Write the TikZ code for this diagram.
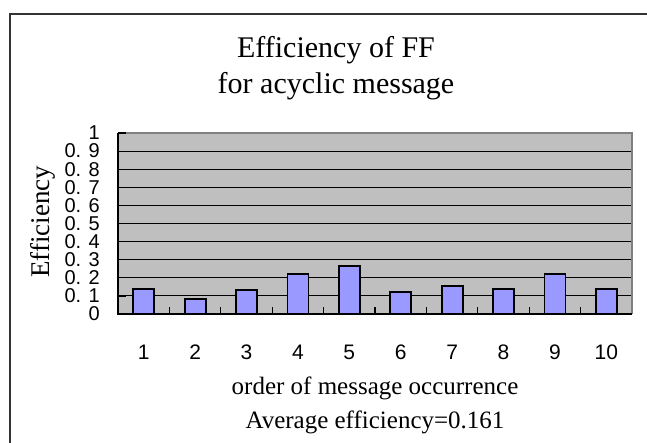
\documentclass[tikz,border=0pt]{standalone}
\usepackage{fontspec}
\setmainfont{Liberation Serif}
\newfontfamily\ticksans{Liberation Sans}
\begin{document}
\begin{tikzpicture}[x=1pt,y=-1pt,
  framestyle/.style={draw=black!80,line width=2pt},
  plotbg/.style={fill=black!25},
  gridln/.style={draw=black,line width=1.1pt},
  plotborder/.style={draw=black!50,line width=2.5pt},
  axisln/.style={draw=black,line width=1.8pt},
  barstyle/.style={draw=black,line width=1.8pt,fill=barblue},
  ttl/.style={font=\fontsize{30}{34}\selectfont,anchor=base},
  axttl/.style={font=\fontsize{25}{28}\selectfont,anchor=base},
  xtick/.style={font=\ticksans\fontsize{21}{22}\selectfont},
  ytick/.style={font=\ticksans\fontsize{20}{20}\selectfont,anchor=east,inner sep=0pt}
]
\definecolor{barblue}{HTML}{9999FF}
\useasboundingbox (0,0) rectangle (647,442);
\fill[white] (0,0) rectangle (647,442);
\begin{scope}
\clip (0,0) rectangle (647,442);
\draw[framestyle] (10,14) rectangle (670,470);
\end{scope}
% plot area
\fill[plotbg] (118,133) rectangle (632,314);
\foreach \i in {1,...,9} {
  \draw[gridln] (118,{314-18.1*\i}) -- (632,{314-18.1*\i});
}
\draw[plotborder] (118,133) -- (632,133) -- (632,314);
% bars
\foreach \v [count=\k] in {0.137,0.083,0.134,0.221,0.267,0.120,0.156,0.138,0.221,0.138} {
  \draw[barstyle] ({118+51.4*(\k-0.5)-10.5},314) rectangle ({118+51.4*(\k-0.5)+10.5},{314-181*\v});
}
% x ticks
\foreach \k in {1,...,9} {
  \draw[axisln,line width=1.2pt] ({118+51.4*\k},314) -- ({118+51.4*\k},307);
}
% y ticks
\foreach \i in {0,...,10} {
  \draw[axisln,line width=1.2pt] (118,{314-18.1*\i}) -- (126,{314-18.1*\i});
}
\draw[axisln] (118,133) -- (118,314) -- (632,314);
% y tick labels
\node[ytick] (y0) at (100,314) {0};
\node[ytick] (y1) at (100,{314-18.1}) {0. 1};
\node[ytick] (y2) at (100,{314-18.1*2}) {0. 2};
\node[ytick] (y3) at (100,{314-18.1*3}) {0. 3};
\node[ytick] (y4) at (100,{314-18.1*4}) {0. 4};
\node[ytick] (y5) at (100,{314-18.1*5}) {0. 5};
\node[ytick] (y6) at (100,{314-18.1*6}) {0. 6};
\node[ytick] (y7) at (100,{314-18.1*7}) {0. 7};
\node[ytick] (y8) at (100,{314-18.1*8}) {0. 8};
\node[ytick] (y9) at (100,{314-18.1*9}) {0. 9};
\node[ytick] (y10) at (100,{314-18.1*10}) {1};
% x tick labels
\foreach \k in {1,...,10} {
  \node[xtick] (x\k) at ({118+51.4*(\k-0.5)},352) {\k};
}
% titles
\node[ttl] (title1) at (336,57) {Efficiency of FF};
\node[ttl] (title2) at (336,93) {for acyclic message};
\node[axttl] (xtitle) at (375,394) {order of message occurrence};
\node[axttl] (avg) at (375,428) {Average efficiency=0.161};
\node[axttl,anchor=center,rotate=90,font=\fontsize{27}{30}\selectfont] (ytitle) at (43,222) {Efficiency};
\end{tikzpicture}
\end{document}
